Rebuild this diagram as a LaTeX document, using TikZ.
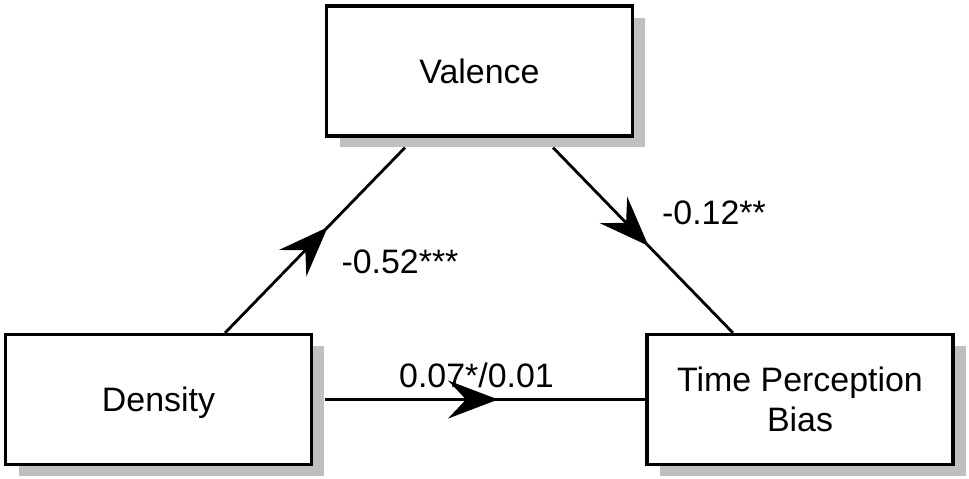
\documentclass[tikz,border=0pt]{standalone}
\usepackage{fontspec}
\setmainfont{Liberation Sans}
\usetikzlibrary{arrows.meta,decorations.markings,shadows}

\begin{document}
\begin{tikzpicture}[x=0.02cm, y=-0.02cm, >=Stealth,
    varbox/.style={draw, line width=1.8pt, fill=white,
      minimum width=6.12cm, minimum height=2.6cm, align=center, text depth=0pt,
      font=\fontsize{19.3}{22.8}\selectfont,
      drop shadow={shadow xshift=0.26cm, shadow yshift=-0.23cm, fill=black!25, opacity=1}},
    effect/.style={line width=1.6pt, postaction={decorate},
      decoration={markings, mark=at position #1 with {\arrow{Stealth[length=1cm,width=0.76cm,inset=0.36cm]}}}},
    coef/.style={font=\fontsize{19.3}{22.8}\selectfont, inner sep=0pt}]
    \useasboundingbox (0,0) rectangle (969,478);

    \node[varbox] (val) at (479.5,71) {Valence};
    \node[varbox] (dens) at (158.5,399.5) {Density};
    \node[varbox] (tpb) at (800,399.5) {Time Perception\\Bias};

    \draw[effect=0.57] ([xshift=1.33cm]dens.north) -- ([xshift=-1.49cm,yshift=-0.2cm]val.south);
    \draw[effect=0.53] ([xshift=1.47cm,yshift=-0.2cm]val.south) -- ([xshift=-1.34cm]tpb.north);
    \draw[effect=0.54] ([xshift=0.24cm]dens.east) -- (tpb.west);

    \node[coef] (ab) at (400,262) {-0.52***};
    \node[coef] (bc) at (714,213) {-0.12**};
    \node[coef] (ac) at (476.5,375) {0.07*/0.01};
\end{tikzpicture}
\end{document}
